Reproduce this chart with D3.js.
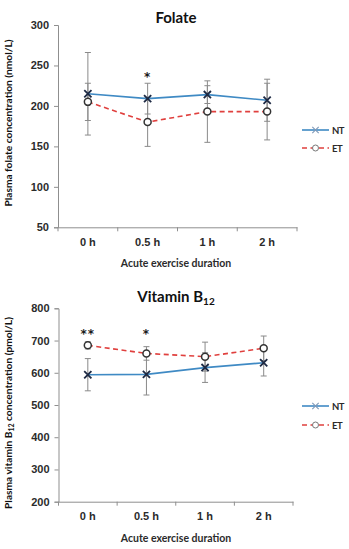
<!DOCTYPE html>
<html><head><meta charset="utf-8">
<script src="https://cdn.jsdelivr.net/npm/d3@7"></script>
<style>
html,body{margin:0;padding:0;background:#fff;}
svg{display:block;font-family:Lato,"Open Sans",sans-serif;}
</style></head>
<body>
<svg id="chart" width="349" height="549"></svg>
<script>
const categories = ["0 h","0.5 h","1 h","2 h"];
const folateTicks = [50,100,150,200,250,300];
const b12Ticks = [200,300,400,500,600,700,800];
const folateNT = [215,209,214,207];
const folateNTsd = [51,19,11,26];
const folateET = [205,180,193,193];
const folateETsd = [23,30,38,35];
const b12NT = [594,595,616,631];
const b12NTsd = [50,64,46,41];
const b12ET = [685,660,650,676];
const b12ETsd = [11,21,45,38];
const folateSig = ["","*","",""];
const folateSigY = 240;
const b12Sig = ["**","*","",""];
const b12SigY = 731;
const seriesNames = ["NT","ET"];

const svg = d3.select("#chart");
const ntColor = "#3f8ac4", etColor = "#e0403e", markColor = "#1e2a44", errColor = "#8a8a8a", axisColor = "#8f8f8f", textColor = "#2b2b2b";

function panel(cfg){
  const g = svg.append("g");
  const y = d3.scaleLinear().domain(cfg.domain).range([cfg.y1, cfg.y0]);
  const x = d3.scaleBand().domain(categories).range([cfg.x0, cfg.x1]);
  const ya = g.append("g").attr("transform",`translate(${cfg.x0},0)`)
    .call(d3.axisLeft(y).tickValues(cfg.ticks).tickSize(4).tickPadding(5).tickFormat(d3.format("d")));
  ya.select(".domain").attr("stroke",axisColor);
  ya.selectAll(".tick line").attr("stroke",axisColor);
  ya.selectAll(".tick text").attr("fill",textColor).style("font-size","11px").style("font-weight","800");
  const xa = g.append("g").attr("transform",`translate(0,${cfg.y1})`)
    .call(d3.axisBottom(x).tickSize(0).tickPadding(11));
  xa.select(".domain").attr("stroke",axisColor);
  xa.selectAll(".tick text").attr("fill",textColor).style("font-size","11px").style("font-weight","800");
  const bounds = categories.map(c=>x(c)).concat([cfg.x1]);
  g.selectAll(".btick").data(bounds).enter().append("line")
    .attr("x1",d=>d).attr("x2",d=>d).attr("y1",cfg.y1).attr("y2",cfg.y1+4).attr("stroke",axisColor);
  const cx = c => x(c)+x.bandwidth()/2;
  const series = [
    {vals:cfg.nt, sd:cfg.ntsd, color:ntColor, dash:null, mark:"x"},
    {vals:cfg.et, sd:cfg.etsd, color:etColor, dash:"5,3.5", mark:"o"}
  ];
  series.forEach(s=>{
    categories.forEach((c,i)=>{
      const px = cx(c), hi = y(s.vals[i]+s.sd[i]), lo = y(s.vals[i]-s.sd[i]);
      g.append("line").attr("x1",px).attr("x2",px).attr("y1",hi).attr("y2",lo).attr("stroke",errColor).attr("stroke-width",1);
      [hi,lo].forEach(yy=>g.append("line").attr("x1",px-3).attr("x2",px+3).attr("y1",yy).attr("y2",yy).attr("stroke",errColor).attr("stroke-width",1));
    });
  });
  const line = d3.line().x((d,i)=>cx(categories[i])).y(d=>y(d));
  series.forEach(s=>{
    g.append("path").datum(s.vals).attr("d",line).attr("fill","none").attr("stroke",s.color)
      .attr("stroke-width",1.6).attr("stroke-dasharray",s.dash);
  });
  series.forEach(s=>{
    categories.forEach((c,i)=>{
      const px = cx(c), py = y(s.vals[i]);
      if(s.mark==="x"){
        const r=3.6;
        g.append("path").attr("d",`M${px-r},${py-r}L${px+r},${py+r}M${px-r},${py+r}L${px+r},${py-r}`)
          .attr("stroke",markColor).attr("stroke-width",1.8);
      } else {
        g.append("circle").attr("cx",px).attr("cy",py).attr("r",3.5).attr("fill","#fff")
          .attr("stroke","#333").attr("stroke-width",1.5);
      }
    });
  });
  categories.forEach((c,i)=>{
    if(cfg.sig[i]) g.append("text").attr("x",cx(c)).attr("y",y(cfg.sigY)+7).attr("text-anchor","middle")
      .attr("fill","#1a1a1a").style("font-family","'DejaVu Sans',sans-serif").style("font-size","12px")
      .style("font-weight","700").style("letter-spacing","1px").text(cfg.sig[i]);
  });
  const t = g.append("text").attr("x",176).attr("y",cfg.titleY).attr("text-anchor","middle")
    .attr("fill","#111").style("font-size","15px").style("font-weight","700");
  t.append("tspan").text(cfg.title);
  if(cfg.titleSub) t.append("tspan").attr("dy",3).style("font-size","10px").text(cfg.titleSub);
  g.append("text").attr("x",176).attr("y",cfg.xTitleY).attr("text-anchor","middle").attr("fill",textColor)
    .style("font-size","10.5px").style("font-weight","700").text("Acute exercise duration");
  const yt = g.append("text").attr("transform",`translate(${cfg.yTitleX},${cfg.yTitleC}) rotate(-90)`)
    .attr("text-anchor","middle").attr("fill","#111").style("font-size","10.2px").style("font-weight","700");
  cfg.yTitle.forEach(p=>{ const ts = yt.append("tspan").text(p.t); if(p.sub){ts.attr("dy",2).style("font-size","7px");} else if(p.after){ts.attr("dy",-2);} });
  series.forEach((s,k)=>{
    const ly = cfg.legY[k];
    g.append("line").attr("x1",302).attr("x2",329).attr("y1",ly).attr("y2",ly).attr("stroke",s.color)
      .attr("stroke-width",1.6).attr("stroke-dasharray",s.dash);
    if(s.mark==="x"){
      const r=3.2, px=315.5;
      g.append("path").attr("d",`M${px-r},${ly-r}L${px+r},${ly+r}M${px-r},${ly+r}L${px+r},${ly-r}`).attr("stroke","#7f99b8").attr("stroke-width",1.1);
    } else {
      g.append("circle").attr("cx",315.5).attr("cy",ly).attr("r",3).attr("fill","#fff").attr("stroke","#777").attr("stroke-width",1);
    }
    g.append("text").attr("x",332).attr("y",ly+3.5).attr("fill",textColor).style("font-size","9.5px").style("font-weight","700")
      .style("letter-spacing","-0.5px").text(seriesNames[k]);
  });
}

panel({domain:[50,300], ticks:folateTicks, x0:58, x1:297, y0:25, y1:227.3,
  nt:folateNT, ntsd:folateNTsd, et:folateET, etsd:folateETsd, sig:folateSig, sigY:folateSigY,
  title:"Folate", titleY:23, xTitleY:267, yTitleX:12, yTitleC:123,
  yTitle:[{t:"Plasma folate concentration (nmol/L)"}], legY:[130,148]});
panel({domain:[200,800], ticks:b12Ticks, x0:58.5, x1:293, y0:308.3, y1:501.7,
  nt:b12NT, ntsd:b12NTsd, et:b12ET, etsd:b12ETsd, sig:b12Sig, sigY:b12SigY,
  title:"Vitamin B", titleSub:"12", titleY:302, xTitleY:542, yTitleX:12, yTitleC:413,
  yTitle:[{t:"Plasma vitamin B"},{t:"12",sub:true},{t:" concentration (pmol/L)",after:true}], legY:[406,425]});
</script>
</body></html>
